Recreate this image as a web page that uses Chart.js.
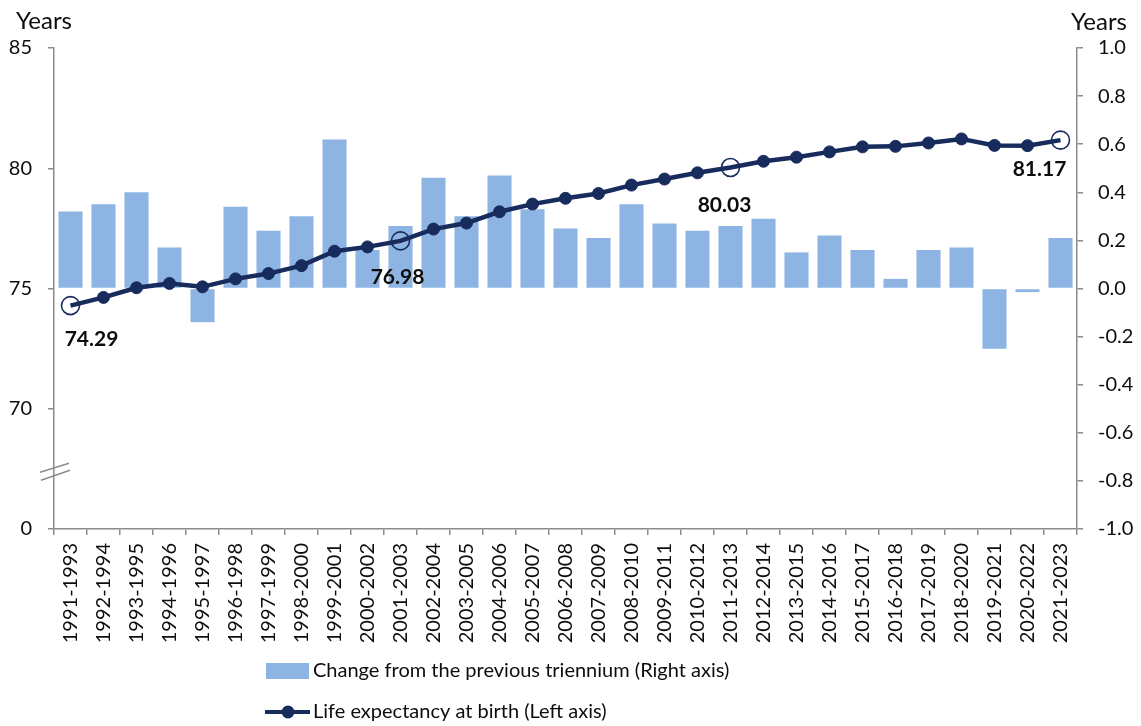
<!DOCTYPE html>
<html>
<head>
<meta charset="utf-8">
<script src="https://cdn.jsdelivr.net/npm/chart.js@4.4.1/dist/chart.umd.min.js"></script>
<style>
  html, body { margin: 0; padding: 0; background: #ffffff; }
  #wrap { width: 1141px; height: 726px; position: relative; }
</style>
</head>
<body>
<div id="wrap"><canvas id="c" width="1141" height="726"></canvas></div>
<script>
// ---- Data ----
const categories = ["1991-1993","1992-1994","1993-1995","1994-1996","1995-1997","1996-1998","1997-1999","1998-2000","1999-2001","2000-2002","2001-2003","2002-2004","2003-2005","2004-2006","2005-2007","2006-2008","2007-2009","2008-2010","2009-2011","2010-2012","2011-2013","2012-2014","2013-2015","2014-2016","2015-2017","2016-2018","2017-2019","2018-2020","2019-2021","2020-2022","2021-2023"];
const changeFromPrevious = [0.32, 0.35, 0.40, 0.17, -0.14, 0.34, 0.24, 0.30, 0.62, 0.16, 0.26, 0.46, 0.30, 0.47, 0.33, 0.25, 0.21, 0.35, 0.27, 0.24, 0.26, 0.29, 0.15, 0.22, 0.16, 0.04, 0.16, 0.17, -0.25, -0.015, 0.21];
const lifeExpectancy = [74.29, 74.63, 75.03, 75.21, 75.07, 75.40, 75.62, 75.95, 76.55, 76.73, 76.98, 77.47, 77.72, 78.19, 78.51, 78.75, 78.95, 79.30, 79.55, 79.81, 80.03, 80.29, 80.46, 80.68, 80.89, 80.91, 81.05, 81.22, 80.95, 80.94, 81.17];
const labelledPoints = ["1991-1993", "2001-2003", "2011-2013", "2021-2023"];
const leftTickValues = [65, 70, 75, 80, 85];
const leftTickLabels = ["0", "70", "75", "80", "85"];
const rightTickValues = [-1.0, -0.8, -0.6, -0.4, -0.2, 0.0, 0.2, 0.4, 0.6, 0.8, 1.0];
const axisUnit = "Years";
const barLabel = "Change from the previous triennium (Right axis)";
const lineLabel = "Life expectancy at birth (Left axis)";

// ---- Styles ----
const NAVY = "#172B5C";
const BAR = "#8DB4E2";
const AXIS = "#8C8C8C";
const TEXT = "#0d0d0d";
const FONT = "Lato";

// label offsets relative to the point (style only)
const labelOffsets = {
  "1991-1993": [21, 34],
  "2001-2003": [-3, 36],
  "2011-2013": [-6, 38],
  "2021-2023": [-21, 29]
};

const isLabelled = (i) => labelledPoints.includes(categories[i]);

const decorPlugin = {
  id: "decor",
  afterDraw(chart) {
    const ctx = chart.ctx;
    const area = chart.chartArea;
    const yL = chart.scales.yL;
    // axis break marks on left axis
    const by = yL.getPixelForValue(67.4);
    const ax = area.left;
    ctx.save();
    ctx.strokeStyle = AXIS;
    ctx.lineWidth = 1.5;
    ctx.beginPath();
    ctx.moveTo(ax - 14, by + 1); ctx.lineTo(ax + 15, by - 8);
    ctx.moveTo(ax - 13, by + 9); ctx.lineTo(ax + 16, by - 1);
    ctx.stroke();
    ctx.restore();

    // data labels for highlighted points
    const meta = chart.getDatasetMeta(0);
    ctx.save();
    ctx.font = "bold 21px " + FONT;
    ctx.fillStyle = TEXT;
    ctx.textAlign = "center";
    ctx.textBaseline = "middle";
    meta.data.forEach((pt, i) => {
      if (!isLabelled(i)) return;
      const off = labelOffsets[categories[i]];
      ctx.fillText(lifeExpectancy[i].toFixed(2), pt.x + off[0], pt.y + off[1]);
    });
    ctx.restore();

    // axis unit titles
    ctx.save();
    ctx.font = "24px " + FONT;
    ctx.fillStyle = TEXT;
    ctx.textBaseline = "middle";
    ctx.textAlign = "left";
    ctx.fillText(axisUnit, 16, 21);
    ctx.fillText(axisUnit, 1071, 22);
    ctx.restore();

    // legend
    const ds = chart.data.datasets;
    ctx.save();
    ctx.font = "20px " + FONT;
    ctx.fillStyle = TEXT;
    ctx.textBaseline = "middle";
    ctx.textAlign = "left";
    // bar item
    ctx.fillStyle = ds[1].backgroundColor;
    ctx.fillRect(266, 663, 43, 16);
    ctx.fillStyle = TEXT;
    ctx.fillText(ds[1].label, 313, 671);
    // line item
    ctx.strokeStyle = ds[0].borderColor;
    ctx.lineWidth = 4;
    ctx.beginPath();
    ctx.moveTo(265, 712); ctx.lineTo(310, 712);
    ctx.stroke();
    ctx.fillStyle = ds[0].borderColor;
    ctx.beginPath();
    ctx.arc(288, 712, 6.5, 0, Math.PI * 2);
    ctx.fill();
    ctx.fillStyle = TEXT;
    ctx.fillText(ds[0].label, 313, 712);
    ctx.restore();
  }
};

function build() {
  new Chart(document.getElementById("c"), {
    type: "bar",
    data: {
      labels: categories,
      datasets: [
        {
          type: "line",
          label: lineLabel,
          data: lifeExpectancy,
          yAxisID: "yL",
          order: 0,
          borderColor: NAVY,
          borderWidth: 4.5,
          tension: 0,
          pointRadius: (c) => isLabelled(c.dataIndex) ? 9 : 6,
          pointBackgroundColor: (c) => isLabelled(c.dataIndex) ? "rgba(0,0,0,0)" : NAVY,
          pointBorderColor: NAVY,
          pointBorderWidth: (c) => isLabelled(c.dataIndex) ? 1.6 : 1,
          pointHoverRadius: 6
        },
        {
          type: "bar",
          label: barLabel,
          data: changeFromPrevious,
          yAxisID: "yR",
          order: 1,
          backgroundColor: BAR,
          borderWidth: 0,
          categoryPercentage: 1.0,
          barPercentage: 0.73
        }
      ]
    },
    options: {
      responsive: false,
      animation: false,
      devicePixelRatio: 1,
      layout: { padding: { top: 48, left: 0, right: 0, bottom: 67 } },
      plugins: {
        legend: { display: false },
        tooltip: { enabled: false },
        title: { display: false }
      },
      scales: {
        x: {
          type: "category",
          offset: true,
          grid: { display: true, offset: true, drawOnChartArea: false, drawTicks: true, tickLength: 6, color: AXIS, lineWidth: 1.5 },
          border: { display: true, color: AXIS, width: 1.5 },
          ticks: {
            autoSkip: false, maxRotation: 90, minRotation: 90, padding: 8,
            color: TEXT, font: { family: FONT, size: 20 }
          },
          afterFit(s) { s.height = 130; }
        },
        yL: {
          type: "linear",
          position: "left",
          min: 65, max: 85,
          afterBuildTicks(s) { s.ticks = leftTickValues.map(v => ({ value: v })); },
          grid: { display: true, drawOnChartArea: false, drawTicks: true, tickLength: 6, color: AXIS, lineWidth: 1.5 },
          border: { display: true, color: AXIS, width: 1.5 },
          ticks: {
            padding: 16, color: TEXT, font: { family: FONT, size: 20 },
            callback: (v) => {
              const k = leftTickValues.indexOf(v);
              return k >= 0 ? leftTickLabels[k] : "";
            }
          },
          afterFit(s) { s.width = 54; }
        },
        yR: {
          type: "linear",
          position: "right",
          min: -1, max: 1,
          afterBuildTicks(s) { s.ticks = rightTickValues.map(v => ({ value: v })); },
          grid: { display: true, drawOnChartArea: false, drawTicks: true, tickLength: 6, color: AXIS, lineWidth: 1.5 },
          border: { display: true, color: AXIS, width: 1.5 },
          ticks: {
            padding: 15, color: TEXT, font: { family: FONT, size: 20 },
            callback: (v) => (Math.abs(v) < 1e-9 ? 0 : v).toFixed(1)
          },
          afterFit(s) { s.width = 64; }
        }
      }
    },
    plugins: [decorPlugin]
  });
}

if (document.fonts && document.fonts.load) {
  Promise.all([document.fonts.load("20px Lato"), document.fonts.load("bold 21px Lato")]).then(build, build);
} else {
  build();
}
</script>
</body>
</html>
